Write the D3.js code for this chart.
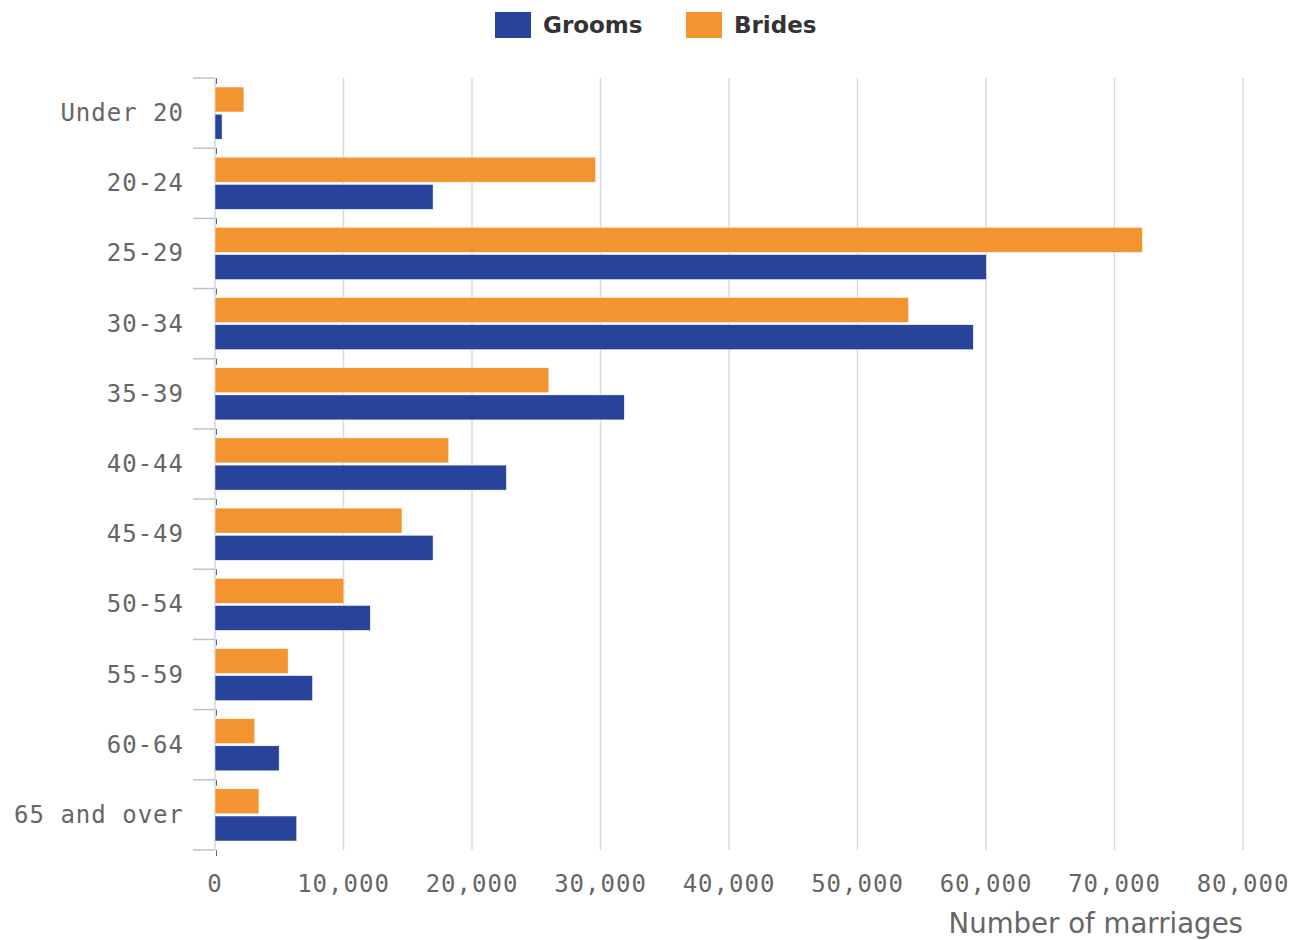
<!DOCTYPE html>
<html>
<head>
<meta charset="utf-8">
<script src="https://cdn.jsdelivr.net/npm/d3@7"></script>
<style>
  body { margin: 0; background: #fff; }
  .tick-label { font-family: "DejaVu Sans Mono", monospace; font-size: 24px; fill: #666; letter-spacing: 1px; }
</style>
</head>
<body>
<div id="chart"></div>
<script>
// Age group of grooms and brides, number of marriages
const ageGroups = ["Under 20", "20-24", "25-29", "30-34", "35-39", "40-44",
                   "45-49", "50-54", "55-59", "60-64", "65 and over"];
const brides = [2250, 29620, 72170, 53970, 25980, 18190, 14550, 10030, 5690, 3090, 3420];
const grooms = [550, 16970, 60030, 59010, 31850, 22680, 16970, 12080, 7590, 4990, 6360];
const xTicks = [0, 10000, 20000, 30000, 40000, 50000, 60000, 70000, 80000];
const seriesNames = ["Brides", "Grooms"];
const legendNames = ["Grooms", "Brides"];

const colors = { Grooms: "#27449a", Brides: "#f39431" };

const W = 1309, H = 940;
const margin = { top: 78, right: 66, bottom: 90, left: 215 };
const width = W - margin.left - margin.right,
      height = H - margin.top - margin.bottom;

const svg = d3.select("#chart")
  .append("svg")
  .attr("width", W)
  .attr("height", H);

const g = svg.append("g")
  .attr("transform", `translate(${margin.left},${margin.top})`);

// Scales
const x = d3.scaleLinear().domain([0, 80000]).range([0, width]);
const y = d3.scaleBand().domain(ageGroups).range([0, height]).padding(0);
const ySub = d3.scaleBand().domain(seriesNames)
  .range([9, y.bandwidth() - 9]).paddingInner(0.08);

// Vertical gridlines
g.selectAll(".grid")
  .data(xTicks.slice(1))
  .enter()
  .append("line")
  .attr("x1", d => x(d)).attr("x2", d => x(d))
  .attr("y1", 0).attr("y2", height)
  .attr("stroke", "#d9d9d9")
  .attr("stroke-width", 1.5);

// Y axis line and category ticks
g.append("line")
  .attr("x1", 0).attr("x2", 0)
  .attr("y1", 0).attr("y2", height)
  .attr("stroke", "#ccd6eb")
  .attr("stroke-width", 1.5);

const boundaries = ageGroups.map(d => y(d)).concat([height]);
g.selectAll(".ytick")
  .data(boundaries)
  .enter()
  .append("line")
  .attr("x1", -22).attr("x2", 0)
  .attr("y1", d => d).attr("y2", d => d)
  .attr("stroke", "#b8c4d6")
  .attr("stroke-width", 1.5);

g.selectAll(".ytick-dark")
  .data(boundaries)
  .enter()
  .append("line")
  .attr("x1", 1.5).attr("x2", 1.5)
  .attr("y1", d => d).attr("y2", d => d + 6)
  .attr("stroke", "#666")
  .attr("stroke-width", 1);

// Category labels
g.selectAll(".ylabel")
  .data(ageGroups)
  .enter()
  .append("text")
  .attr("class", "tick-label")
  .attr("x", -31)
  .attr("y", d => y(d) + y.bandwidth() / 2 + 1)
  .attr("text-anchor", "end")
  .attr("dominant-baseline", "middle")
  .text(d => d);

// Bars
const rows = ageGroups.map((a, i) => ({ age: a, Brides: brides[i], Grooms: grooms[i] }));

const groups = g.selectAll(".row")
  .data(rows)
  .enter()
  .append("g")
  .attr("transform", d => `translate(0,${y(d.age)})`);

groups.selectAll("rect")
  .data(d => seriesNames.map(s => ({ key: s, value: d[s] })))
  .enter()
  .append("rect")
  .attr("x", 0)
  .attr("y", d => ySub(d.key))
  .attr("width", d => x(d.value))
  .attr("height", ySub.bandwidth())
  .attr("fill", d => colors[d.key])
  .attr("stroke", "#ffffff")
  .attr("stroke-width", 0.5);

// X tick labels
g.selectAll(".xlabel")
  .data(xTicks)
  .enter()
  .append("text")
  .attr("class", "tick-label")
  .attr("x", d => x(d))
  .attr("y", height + 35)
  .attr("text-anchor", "middle")
  .attr("dominant-baseline", "middle")
  .text(d => d3.format(",")(d));

// X axis title
g.append("text")
  .attr("x", width)
  .attr("y", height + 75)
  .attr("text-anchor", "end")
  .attr("dominant-baseline", "middle")
  .style("font-family", "DejaVu Sans, sans-serif")
  .style("font-size", "27.6px")
  .style("fill", "#666")
  .text("Number of marriages");

// Legend
const legend = svg.append("g").attr("transform", "translate(495,12)");
const legendX = [0, 191];
legendNames.forEach((name, i) => {
  const item = legend.append("g").attr("transform", `translate(${legendX[i]},0)`);
  item.append("rect")
    .attr("width", 36).attr("height", 26)
    .attr("fill", colors[name]);
  item.append("text")
    .attr("x", 48).attr("y", 14)
    .attr("dominant-baseline", "middle")
    .style("font-family", "DejaVu Sans, sans-serif")
    .style("font-weight", "bold")
    .style("font-size", "23px")
    .style("fill", "#333")
    .text(name);
});
</script>
</body>
</html>
